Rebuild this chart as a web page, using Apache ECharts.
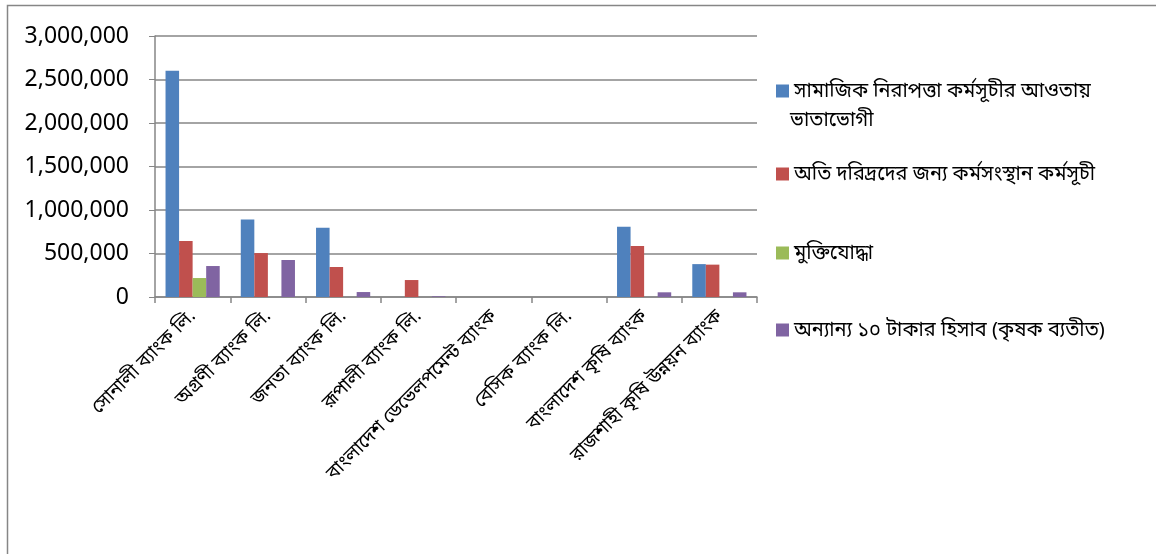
<!DOCTYPE html>
<html><head><meta charset="utf-8">
<script src="https://cdn.jsdelivr.net/npm/echarts@6/dist/echarts.min.js"></script>
<style>html,body{margin:0;padding:0;background:#fff}#c{width:1156px;height:554px}</style>
</head><body><div id="c"></div>
<script>
const categories = ['সোনালী ব্যাংক লি.', 'অগ্রণী ব্যাংক লি.', 'জনতা ব্যাংক লি.', 'রূপালী ব্যাংক লি.', 'বাংলাদেশ ডেভেলপমেন্ট ব্যাংক', 'বেসিক ব্যাংক লি.', 'বাংলাদেশ কৃষি ব্যাংক', 'রাজশাহী কৃষি উন্নয়ন ব্যাংক'];
const seriesNames = ['সামাজিক নিরাপত্তা কর্মসূচীর আওতায় ভাতাভোগী', 'অতি দরিদ্রদের জন্য কর্মসংস্থান কর্মসূচী', 'মুক্তিযোদ্ধা', 'অন্যান্য ১০ টাকার হিসাব (কৃষক ব্যতীত)'];
const socialSafety = [2600000, 890000, 795000, 0, 0, 0, 808000, 378000];
const extremePoor = [644000, 505000, 345000, 195000, 0, 0, 586000, 372000];
const freedomFighters = [218000, 0, 0, 0, 0, 0, 0, 0];
const otherTenTaka = [356000, 425000, 57000, 8000, 0, 0, 54000, 54000];
const yTicks = [0, 500000, 1000000, 1500000, 2000000, 2500000, 3000000];

const colors = ['#4F81BD', '#C0504D', '#9BBB59', '#8064A2'];
const font = '"Noto Sans", "Noto Sans Bengali", "Liberation Sans", sans-serif';
const chart = echarts.init(document.getElementById('c'));
const values = [socialSafety, extremePoor, freedomFighters, otherTenTaka];
const legendTops = [76, 159, 238, 315];
const legendLabels = ['সামাজিক নিরাপত্তা কর্মসূচীর আওতায়', seriesNames[1], seriesNames[2], seriesNames[3]];
chart.setOption({
  backgroundColor: '#fff',
  animation: false,
  grid: {left: 155, right: 399, top: 36, bottom: 257},
  xAxis: {
    type: 'category', data: categories,
    axisLine: {lineStyle: {color: '#868686', width: 1.5}},
    axisTick: {show: true, length: 6, lineStyle: {color: '#868686', width: 1.5}},
    axisLabel: {rotate: 45, fontSize: 19, color: '#000', fontFamily: font, margin: 16, interval: 0}
  },
  yAxis: {
    type: 'value', min: 0, max: 3000000, interval: 500000,
    axisLine: {show: true, lineStyle: {color: '#868686', width: 1.5}},
    axisTick: {show: true, length: 6, inside: false, lineStyle: {color: '#868686'}},
    splitLine: {lineStyle: {color: '#868686', width: 1.5}},
    axisLabel: {fontSize: 23, color: '#000', fontFamily: font, margin: 26,
      formatter: v => yTicks.includes(v) ? v.toLocaleString('en-US') : ''}
  },
  legend: seriesNames.map((n, i) => ({
    orient: 'vertical', left: 771, top: legendTops[i],
    data: [n], itemWidth: 13, itemHeight: 13, itemGap: 0,
    icon: 'rect', selectedMode: false,
    formatter: () => legendLabels[i],
    textStyle: {fontSize: 20, color: '#000', fontFamily: font}
  })),
  graphic: [
    {type: 'rect', shape: {x: 7.5, y: 5.5, width: 1160, height: 560}, style: {fill: 'none', stroke: '#868686', lineWidth: 1.5}, silent: true},
    {type: 'text', left: 790, top: 110, style: {text: 'ভাতাভোগী', fontSize: 20, fill: '#000', fontFamily: font}}
  ],
  series: seriesNames.map((n, i) => ({
    name: n, type: 'bar', data: values[i], barGap: '0%', barCategoryGap: '28%',
    itemStyle: {color: colors[i]}
  }))
});
</script></body></html>
